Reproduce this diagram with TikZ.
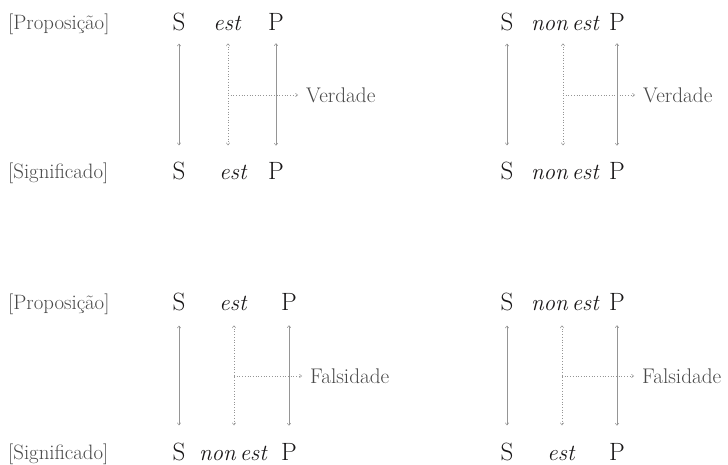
\documentclass[tikz,border=0pt]{standalone}
\usetikzlibrary{arrows.meta}
\definecolor{ink}{HTML}{181617}
\definecolor{lbl}{HTML}{484848}
\definecolor{ln}{HTML}{959595}
\newcommand\mytightsp{\spaceskip=4pt plus 1pt minus 1pt\relax}
\tikzset{
  word/.style={anchor=base,inner sep=0pt,text=ink,font=\fontsize{25}{29}\selectfont},
  itword/.style={anchor=base,inner sep=0pt,text=ink,font=\fontsize{23}{27}\selectfont\itshape\mytightsp},
  side/.style={anchor=base west,inner sep=0pt,text=lbl,font=\fontsize{20.8}{24}\selectfont},
  res/.style={anchor=west,inner sep=0pt,text=lbl,font=\fontsize{21.2}{25}\selectfont},
  tipp/.tip={Straight Barb[length=2.2pt,width=3.6pt,line width=0.5pt]},
  sl/.style={draw=ln,line width=0.8pt,{tipp}-{tipp},shorten <=12pt,shorten >=17pt},
  dl/.style={draw=ln,line width=0.7pt,dotted,{tipp}-{tipp},shorten <=12pt,shorten >=17pt},
  hl/.style={draw=ln,line width=0.7pt,dotted,-{tipp},shorten >=8pt},
}
\begin{document}
\begin{tikzpicture}[x=1pt,y=-1pt]
\useasboundingbox (0,0) rectangle (728,465);
% ---------- top-left ----------
\node[side] (lp1) at (8,30) {[Proposição]};
\node[side] (ls1) at (8,179) {[Significado]};
\node[word] (a1) at (179,31) {S};
\node[itword] (b1) at (227,31) {est};
\node[word] (c1) at (276,31) {P};
\node[word] (a2) at (179,180) {S};
\node[itword] (b2) at (233,180) {est};
\node[word] (c2) at (276,180) {P};
\node[res] (r1) at (306,95) {Verdade};
\draw[sl] (a1.south) -- (a2.north);
\draw[sl] (c1.south) -- (c2.north);
\draw[dl] ([xshift=1pt]b1.south) -- ([xshift=1pt]b1.south |- a2.north);
\draw[hl] ([xshift=1pt]b1.south |- r1.west) -- (r1.west);
% ---------- top-right ----------
\node[word] (d1) at (507,31) {S};
\node[itword] (e1) at (565,31) {non est};
\node[word] (f1) at (617,31) {P};
\node[word] (d2) at (507,180) {S};
\node[itword] (e2) at (565,180) {non est};
\node[word] (f2) at (617,180) {P};
\node[res] (r2) at (643,95) {Verdade};
\draw[sl] (d1.south) -- (d2.north);
\draw[sl] (f1.south) -- (f2.north);
\draw[dl] ([xshift=-2pt]e1.south) -- ([xshift=-2pt]e1.south |- d2.north);
\draw[hl] ([xshift=-2pt]e1.south |- r2.west) -- (r2.west);
% ---------- bottom-left ----------
\node[side] (lp2) at (8,309) {[Proposição]};
\node[side] (ls2) at (8,459) {[Significado]};
\node[word] (g1) at (179,310) {S};
\node[itword] (h1) at (233,310) {est};
\node[word] (i1) at (289,310) {P};
\node[word] (g2) at (179,460) {S};
\node[itword] (h2) at (233,460) {non est};
\node[word] (i2) at (289,460) {P};
\node[res] (r3) at (310,376) {Falsidade};
\draw[sl,shorten <=15pt] (g1.south) -- (g2.north);
\draw[sl,shorten <=15pt] (i1.south) -- (i2.north);
\draw[dl,shorten <=15pt] ([xshift=1pt]h1.south) -- ([xshift=1pt]h1.south |- g2.north);
\draw[hl] ([xshift=1pt]h1.south |- r3.west) -- (r3.west);
% ---------- bottom-right ----------
\node[word] (j1) at (507,310) {S};
\node[itword] (k1) at (565,310) {non est};
\node[word] (l1) at (617,310) {P};
\node[word] (j2) at (507,460) {S};
\node[itword] (k2) at (561,460) {est};
\node[word] (l2) at (617,460) {P};
\node[res] (r4) at (642,376) {Falsidade};
\draw[sl,shorten <=15pt] (j1.south) -- (j2.north);
\draw[sl,shorten <=15pt] (l1.south) -- (l2.north);
\draw[dl,shorten <=15pt] ([xshift=-3pt]k1.south) -- ([xshift=-3pt]k1.south |- j2.north);
\draw[hl] ([xshift=-3pt]k1.south |- r4.west) -- (r4.west);
\end{tikzpicture}
\end{document}
